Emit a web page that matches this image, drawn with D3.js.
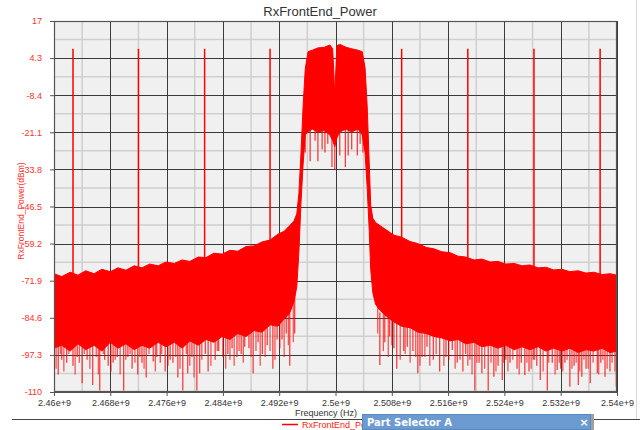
<!DOCTYPE html>
<html>
<head>
<meta charset="utf-8">
<script src="https://cdn.jsdelivr.net/npm/d3@7"></script>
<style>
  body { margin: 0; background: #fff; }
  svg text { font-family: "Liberation Sans", Arial, sans-serif; }
</style>
</head>
<body>
<svg id="chart" width="640" height="430"></svg>
<script>
// spectrum envelope (GHz / dBm)
var freqGHz = [2.4600, 2.4611, 2.4623, 2.4634, 2.4645, 2.4657, 2.4668, 2.4680, 2.4691, 2.4702,
  2.4714, 2.4725, 2.4736, 2.4748, 2.4759, 2.4771, 2.4782, 2.4793, 2.4805, 2.4816,
  2.4827, 2.4839, 2.4850, 2.4861, 2.4873, 2.4884, 2.4896, 2.4907, 2.4918, 2.4927,
  2.4935, 2.4941, 2.4945, 2.4948, 2.4951, 2.4954, 2.4957, 2.4961, 2.4967, 2.4975,
  2.4984, 2.4992, 2.4996, 2.4999, 2.5002, 2.5006, 2.5015, 2.5023, 2.5032, 2.5038,
  2.5042, 2.5045, 2.5048, 2.5050, 2.5053, 2.5057, 2.5063, 2.5072, 2.5083, 2.5094,
  2.5106, 2.5117, 2.5129, 2.5140, 2.5151, 2.5163, 2.5174, 2.5185, 2.5197, 2.5208,
  2.5220, 2.5231, 2.5242, 2.5254, 2.5265, 2.5276, 2.5288, 2.5299, 2.5310, 2.5322,
  2.5333, 2.5345, 2.5356, 2.5367, 2.5379, 2.5390, 2.5400];
var hiDbm = [-69.5, -70.5, -69.0, -70.0, -68.5, -69.5, -68.0, -68.8, -67.5, -68.3,
  -66.8, -67.5, -66.2, -66.8, -65.5, -66.0, -64.8, -65.3, -63.8, -64.0,
  -62.5, -62.8, -61.5, -61.8, -60.2, -60.0, -58.6, -58.0, -56.0, -55.0,
  -53.0, -51.5, -49.0, -42.0, -28.0, -12.0, 0.5, 6.5, 7.0, 7.8,
  8.0, 8.8, 7.5, -8.0, 8.5, 9.0, 8.0, 7.5, 7.0, 6.5,
  1.0, -12.0, -32.0, -46.0, -50.5, -52.0, -53.0, -54.5, -56.3, -57.0,
  -58.5, -59.2, -60.5, -61.0, -62.0, -62.3, -63.5, -63.8, -64.8, -64.5,
  -65.5, -65.3, -66.2, -66.0, -66.8, -66.5, -67.5, -67.3, -68.2, -68.0,
  -68.8, -68.5, -69.3, -69.0, -69.8, -69.5, -70.0];
var loDbm = [-95, -94, -96, -93.5, -95.5, -94, -96, -93, -95, -93.5,
  -95.5, -94, -95, -93, -94.5, -93, -95, -92.5, -94, -92,
  -93, -91, -92, -90, -91, -89, -89.5, -87, -87.5, -85,
  -83, -79, -74, -62, -45, -32, -22, -21, -20, -21,
  -20.5, -22, -24, -26, -23, -21, -20, -21, -20, -22,
  -28, -40, -55, -68, -76, -80, -82, -84, -86, -87.5,
  -88, -89.5, -90, -91, -91.5, -92.5, -92, -93.5, -93, -94.5,
  -94, -95, -94, -95.5, -94.5, -95.5, -94.5, -96, -95, -96,
  -95, -96.5, -95.5, -96, -95, -96.5, -96];

// deep downward noise spikes
var dipFreq = [2.4600, 2.4606, 2.4611, 2.4618, 2.4627, 2.4633, 2.4640, 2.4647, 2.4655, 2.4665,
  2.4672, 2.4677, 2.4684, 2.4690, 2.4699, 2.4705, 2.4711, 2.4719, 2.4725, 2.4731,
  2.4741, 2.4746, 2.4751, 2.4758, 2.4765, 2.4769, 2.4776, 2.4783, 2.4790, 2.4796,
  2.4803, 2.4807, 2.4815, 2.4819, 2.4829, 2.4834, 2.4840, 2.4847, 2.4853, 2.4860,
  2.4866, 2.4871, 2.4877, 2.4883, 2.4890, 2.4896, 2.4903, 2.4911, 2.4917, 2.4924,
  2.4930, 2.4935, 2.4942,
  2.4957, 2.4964, 2.4971, 2.4975, 2.4981, 2.4985, 2.4989, 2.4995, 2.4999, 2.5006,
  2.5014, 2.5018, 2.5023, 2.5031, 2.5035, 2.5039,
  2.5063, 2.5070, 2.5077, 2.5083, 2.5087, 2.5097, 2.5102, 2.5110, 2.5117, 2.5123,
  2.5130, 2.5139, 2.5148, 2.5157, 2.5166, 2.5173, 2.5181, 2.5185, 2.5191, 2.5198,
  2.5204, 2.5208, 2.5217, 2.5225, 2.5231, 2.5237, 2.5242, 2.5248, 2.5258, 2.5264,
  2.5269, 2.5275, 2.5281, 2.5286, 2.5291, 2.5301, 2.5308, 2.5315, 2.5320, 2.5326,
  2.5333, 2.5339, 2.5345, 2.5350, 2.5356, 2.5362, 2.5372, 2.5377, 2.5383, 2.5390,
  2.5399];
var dipDbm = [-108, -104, -99, -100, -101, -98, -107, -99, -107.6, -109.5,
  -99, -101, -100, -98, -109.5, -98, -102, -104, -100, -105,
  -99.6, -98, -100, -103, -99, -100, -105, -109.5, -103.6, -98,
  -109.5, -103.6, -97, -103, -99, -96, -98, -97, -95, -98,
  -97, -94.5, -95, -103.6, -93, -97, -94, -102, -92, -92,
  -90, -101, -90,
  -28, -31, -24, -31, -27, -28, -25, -33, -34, -29,
  -33, -29, -27, -29, -25, -28,
  -100.8, -93, -91, -95, -102, -96, -94.5, -96, -103.6, -98,
  -94.5, -99, -103, -98, -95.6, -100, -103, -97, -99, -109.5,
  -100, -103.6, -109.5, -104.8, -101, -105.9, -99, -100, -102, -100,
  -104.2, -103, -99, -101, -105.9, -109.5, -100, -102.5, -102, -100,
  -108.2, -101, -107.6, -104.8, -102, -107, -103.6, -100, -104.8, -103,
  -108.2];

// shorter spikes along the ragged lower edge
var dip2Freq = [2.4603, 2.4609, 2.4614, 2.4621, 2.4630, 2.4636, 2.4643, 2.4651, 2.4660, 2.4663,
  2.4670, 2.4681, 2.4687, 2.4694, 2.4702, 2.4708, 2.4715, 2.4722, 2.4728, 2.4735,
  2.4744, 2.4753, 2.4762, 2.4773, 2.4779, 2.4788, 2.4793, 2.4799, 2.4810, 2.4823,
  2.4832, 2.4844, 2.4850, 2.4856, 2.4863, 2.4869, 2.4880, 2.4887, 2.4893, 2.4900,
  2.4907, 2.4914, 2.4921, 2.4927, 2.4933, 2.4940,
  2.5060, 2.5068, 2.5075, 2.5080, 2.5092, 2.5099, 2.5106, 2.5114, 2.5120, 2.5127,
  2.5134, 2.5143, 2.5154, 2.5161, 2.5170, 2.5177, 2.5188, 2.5194, 2.5201, 2.5212,
  2.5221, 2.5228, 2.5239, 2.5245, 2.5252, 2.5261, 2.5272, 2.5278, 2.5283, 2.5295,
  2.5303, 2.5312, 2.5318, 2.5323, 2.5329, 2.5336, 2.5342, 2.5347, 2.5353, 2.5359,
  2.5366, 2.5374, 2.5380, 2.5386, 2.5393, 2.5397];
var dip2Dbm = [-102, -97, -103, -97, -104, -100, -97, -102, -98, -104,
  -97, -103, -99, -104, -99, -97, -100, -98, -102, -97,
  -103, -97, -101, -98, -102, -97, -101, -105, -99, -101,
  -96, -102, -99, -101, -96, -100, -98, -96, -101, -98,
  -96, -99, -95, -98, -94, -93,
  -90, -96, -98, -94, -99, -97, -100, -98, -101, -98,
  -101, -97, -101, -99, -102, -99, -101, -104, -100, -102,
  -100, -103, -100, -103, -99, -104, -100, -102, -99, -103,
  -100, -104, -100, -103, -99, -102, -100, -103, -99, -102,
  -100, -104, -99, -102, -100, -103];

// narrow spurs
var spurFreq = [2.4627, 2.4720, 2.4814, 2.4907, 2.5094, 2.5188, 2.5282, 2.5376];
var spurDbm = [7.5, 7.5, 7.5, 7.5, 7.5, 7.5, 7.5, 7.5];

var yTicks = [17, 4.3, -8.4, -21.1, -33.8, -46.5, -59.2, -71.9, -84.6, -97.3, -110];
var xTicks = [2.46, 2.468, 2.476, 2.484, 2.492, 2.5, 2.508, 2.516, 2.524, 2.532, 2.54];
var xTickLabels = ["2.46e+9", "2.468e+9", "2.476e+9", "2.484e+9", "2.492e+9", "2.5e+9",
  "2.508e+9", "2.516e+9", "2.524e+9", "2.532e+9", "2.54e+9"];

var pLeft = 54, pRight = 617, pTop = 21, pBottom = 392;
var red = "#ff0000";

var x = d3.scaleLinear().domain([2.46e9, 2.54e9]).range([pLeft, pRight]);
var y = d3.scaleLinear().domain([-110, 17]).range([pBottom, pTop]);

var svg = d3.select("#chart");
svg.append("rect").attr("width", 640).attr("height", 430).attr("fill", "#fff");

// plot background
svg.append("rect")
  .attr("x", pLeft).attr("y", pTop)
  .attr("width", pRight - pLeft).attr("height", pBottom - pTop)
  .attr("fill", "#f0f0f0");

// minor grid (halfway between ticks)
var grid = svg.append("g");
for (var i = 0; i < xTicks.length - 1; i++) {
  var xm = x((xTicks[i] + xTicks[i + 1]) / 2 * 1e9);
  grid.append("line").attr("x1", xm).attr("x2", xm).attr("y1", pTop).attr("y2", pBottom)
    .attr("stroke", "#cfcfcf").attr("stroke-width", 1.5);
}
for (var j = 0; j < yTicks.length - 1; j++) {
  var ym = y((yTicks[j] + yTicks[j + 1]) / 2);
  grid.append("line").attr("x1", pLeft).attr("x2", pRight).attr("y1", ym).attr("y2", ym)
    .attr("stroke", "#cfcfcf").attr("stroke-width", 1.5);
}
// major grid
xTicks.forEach(function (t) {
  var xx = Math.round(x(t * 1e9)) + 0.5;
  grid.append("line").attr("x1", xx).attr("x2", xx).attr("y1", pTop).attr("y2", pBottom)
    .attr("stroke", "#3a3a3a").attr("stroke-width", 1);
});
yTicks.forEach(function (t) {
  var yy = Math.round(y(t)) + 0.5;
  grid.append("line").attr("x1", pLeft).attr("x2", pRight).attr("y1", yy).attr("y2", yy)
    .attr("stroke", "#3a3a3a").attr("stroke-width", 1);
});

svg.append("clipPath").attr("id", "plotclip").append("rect")
  .attr("x", pLeft).attr("y", pTop).attr("width", pRight - pLeft).attr("height", pBottom - pTop);

var plot = svg.append("g").attr("clip-path", "url(#plotclip)");

var band = freqGHz.map(function (f, k) { return { f: f, hi: hiDbm[k], lo: loDbm[k] }; });
var area = d3.area()
  .x(function (d) { return x(d.f * 1e9); })
  .y0(function (d) { return y(d.lo); })
  .y1(function (d) { return y(d.hi); });

plot.append("path").datum(band)
  .attr("d", area)
  .attr("fill", red)
  .attr("stroke", red)
  .attr("stroke-width", 1);

function drawSpikes(freqs, vals, opacity) {
  var pts = freqs.map(function (f, k) { return { f: f, v: vals[k] }; });
  plot.append("g").selectAll("line").data(pts).enter().append("line")
    .attr("x1", function (d) { return x(d.f * 1e9); })
    .attr("x2", function (d) { return x(d.f * 1e9); })
    .attr("y1", function (d) { return y(d.v); })
    .attr("y2", function (d) { return y(d.v + 18); })
    .attr("stroke", red).attr("stroke-opacity", opacity).attr("stroke-width", 1.3);
}
drawSpikes(dip2Freq, dip2Dbm, 0.65);
drawSpikes(dipFreq, dipDbm, 0.75);

var spurs = spurFreq.map(function (f, k) { return { f: f, v: spurDbm[k] }; });
plot.append("g").selectAll("line").data(spurs).enter().append("line")
  .attr("x1", function (d) { return x(d.f * 1e9); })
  .attr("x2", function (d) { return x(d.f * 1e9); })
  .attr("y1", function (d) { return y(d.v); })
  .attr("y2", function (d) { return y(-75); })
  .attr("stroke", red).attr("stroke-width", 1.5);

// frame
svg.append("rect")
  .attr("x", pLeft + 0.5).attr("y", pTop + 0.5)
  .attr("width", pRight - pLeft - 1).attr("height", pBottom - pTop - 1)
  .attr("fill", "none").attr("stroke", "#555").attr("stroke-width", 1.2);

// axes
var yAxis = svg.append("g")
  .attr("transform", "translate(" + pLeft + ",0)")
  .call(d3.axisLeft(y).tickValues(yTicks).tickFormat(function (d) { return d; })
    .tickSize(4).tickPadding(8));
yAxis.select(".domain").attr("stroke", "#555");
yAxis.selectAll(".tick line").attr("stroke", "#555");
yAxis.selectAll("text").attr("fill", "#ff3030").style("font-size", "9px")
  .style("font-family", "'Liberation Sans', Arial, sans-serif");

var xAxis = svg.append("g")
  .attr("transform", "translate(0," + pBottom + ")")
  .call(d3.axisBottom(x).tickValues(xTicks.map(function (v) { return v * 1e9; }))
    .tickFormat(function (d, k) { return xTickLabels[k]; })
    .tickSize(4).tickPadding(4));
xAxis.select(".domain").attr("stroke", "#555");
xAxis.selectAll(".tick line").attr("stroke", "#555");
xAxis.selectAll("text").attr("fill", "#333").style("font-size", "9px")
  .style("font-family", "'Liberation Sans', Arial, sans-serif");

// titles
svg.append("text").attr("x", 320).attr("y", 16).attr("text-anchor", "middle")
  .attr("fill", "#333").style("font-size", "13px").text("RxFrontEnd_Power");

svg.append("text").attr("transform", "translate(24,211) rotate(-90)")
  .attr("text-anchor", "middle").attr("fill", "#ff3030").style("font-size", "8.5px")
  .text("RxFrontEnd_Power(dBm)");

svg.append("text").attr("x", 326).attr("y", 416).attr("text-anchor", "middle")
  .attr("fill", "#333").style("font-size", "9px").text("Frequency (Hz)");

// separator and right edge
svg.append("line").attr("x1", 12).attr("x2", 640).attr("y1", 419.5).attr("y2", 419.5)
  .attr("stroke", "#444").attr("stroke-width", 1);
svg.append("line").attr("x1", 636.5).attr("x2", 636.5).attr("y1", 0).attr("y2", 419)
  .attr("stroke", "#d8d8d8").attr("stroke-width", 1);

// legend (the part visible left of the panel)
svg.append("line").attr("x1", 282).attr("x2", 298).attr("y1", 424.5).attr("y2", 424.5)
  .attr("stroke", red).attr("stroke-width", 1.5);
svg.append("text").attr("x", 302).attr("y", 428).attr("fill", "#ff2020")
  .style("font-size", "9px").text("RxFrontEnd_Pow");

// part selector panel
svg.append("rect").attr("x", 591).attr("y", 414).attr("width", 3).attr("height", 16)
  .attr("fill", "#a0a0a0");
svg.append("rect").attr("x", 362.5).attr("y", 414.5).attr("width", 228).attr("height", 15)
  .attr("fill", "#6b9bd0").attr("stroke", "#5a88bd").attr("stroke-width", 1);
svg.append("text").attr("x", 367).attr("y", 426).attr("fill", "#fff")
  .style("font-family", "'DejaVu Sans', sans-serif").style("font-weight", "bold")
  .style("font-size", "10px").text("Part Selector A");
svg.append("text").attr("x", 584).attr("y", 426).attr("text-anchor", "middle")
  .attr("fill", "#fff").style("font-family", "'DejaVu Sans', sans-serif")
  .style("font-weight", "bold").style("font-size", "11px").text("×");
</script>
</body>
</html>
